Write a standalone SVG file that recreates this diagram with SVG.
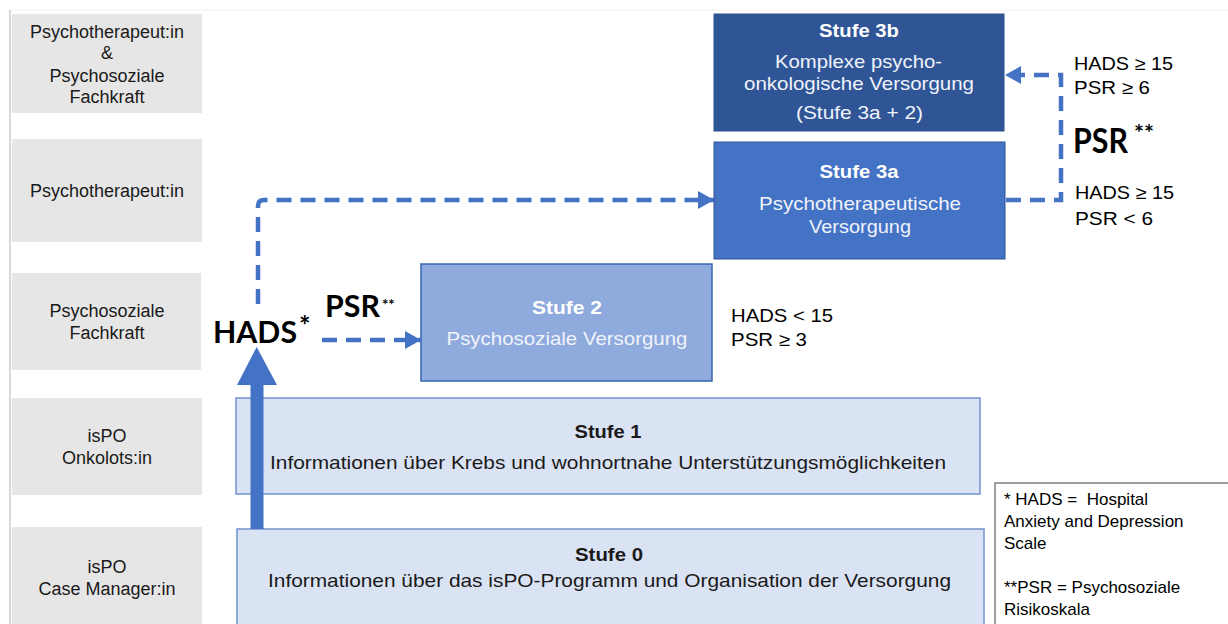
<svg xmlns="http://www.w3.org/2000/svg" width="1228" height="624" viewBox="0 0 1228 624">
<style>
  .lane { fill: #E6E6E6; }
  .lbl { font-family: "Liberation Sans", Arial, sans-serif; font-size: 18px; fill: #1a1a1a; text-anchor: middle; }
  .cond { font-family: "Liberation Sans", Arial, sans-serif; font-size: 18.5px; fill: #000; }
  .bt { font-family: "Liberation Sans", Arial, sans-serif; text-anchor: middle; }
  .bold { font-weight: bold; }
  .white { fill: #ffffff; }
  .soft { fill: #F0F3FA; }
  .dark { fill: #1a1a1a; }
  .big { font-family: Lato, "Open Sans", sans-serif; font-weight: 700; fill: #000; }
  .dash { fill: none; stroke: #4472C4; stroke-width: 4.5; stroke-dasharray: 15 9; }
  .legend { font-family: "Liberation Sans", Arial, sans-serif; font-size: 17px; fill: #000; }
</style>
<defs>
  <marker id="ah" markerUnits="userSpaceOnUse" viewBox="0 0 16 18" markerWidth="16" markerHeight="18" refX="16" refY="9" orient="auto">
    <path d="M0,0 L16,9 L0,18 Z" fill="#4472C4"/>
  </marker>
</defs>
<rect width="1228" height="624" fill="#ffffff"/>
<!-- faint frame -->
<line x1="10" y1="10" x2="1228" y2="10" stroke="#F2F2F2" stroke-width="1"/>
<line x1="10" y1="10" x2="10" y2="624" stroke="#D9D9D9" stroke-width="2"/>

<!-- left lanes -->
<g id="lane-1">
  <rect class="lane" x="12" y="14" width="190" height="99"/>
  <text class="lbl" x="107" y="38">Psychotherapeut:in</text>
  <text class="lbl" x="107" y="59">&amp;</text>
  <text class="lbl" x="107" y="82">Psychosoziale</text>
  <text class="lbl" x="107" y="103">Fachkraft</text>
</g>
<g id="lane-2">
  <rect class="lane" x="12" y="139" width="190" height="103"/>
  <text class="lbl" x="107" y="197">Psychotherapeut:in</text>
</g>
<g id="lane-3">
  <rect class="lane" x="12" y="273" width="189" height="97"/>
  <text class="lbl" x="107" y="317">Psychosoziale</text>
  <text class="lbl" x="107" y="339">Fachkraft</text>
</g>
<g id="lane-4">
  <rect class="lane" x="12" y="398" width="190" height="97"/>
  <text class="lbl" x="107" y="442">isPO</text>
  <text class="lbl" x="107" y="464">Onkolots:in</text>
</g>
<g id="lane-5">
  <rect class="lane" x="12" y="527" width="190" height="100"/>
  <text class="lbl" x="107" y="573">isPO</text>
  <text class="lbl" x="107" y="595">Case Manager:in</text>
</g>

<!-- Stufe boxes -->
<g id="stufe-3b">
  <rect x="714" y="14" width="290" height="117" fill="#2F5597" stroke="#2E528F" stroke-width="1"/>
  <text class="bt bold white" x="859" y="37" font-size="17.5" textLength="80" lengthAdjust="spacingAndGlyphs">Stufe 3b</text>
  <text class="bt soft" x="858.5" y="68" font-size="18.5" textLength="167" lengthAdjust="spacingAndGlyphs">Komplexe psycho-</text>
  <text class="bt soft" x="859" y="90" font-size="18.5" textLength="230" lengthAdjust="spacingAndGlyphs">onkologische Versorgung</text>
  <text class="bt soft" x="859.5" y="119" font-size="18.5" textLength="127" lengthAdjust="spacingAndGlyphs">(Stufe 3a + 2)</text>
</g>
<g id="stufe-3a">
  <rect x="714" y="142" width="291" height="117" fill="#4472C4" stroke="#2F5597" stroke-width="1"/>
  <text class="bt bold white" x="859" y="178" font-size="17.5" textLength="79" lengthAdjust="spacingAndGlyphs">Stufe 3a</text>
  <text class="bt soft" x="860" y="210" font-size="18.5" textLength="202" lengthAdjust="spacingAndGlyphs">Psychotherapeutische</text>
  <text class="bt soft" x="860" y="233" font-size="18.5" textLength="102" lengthAdjust="spacingAndGlyphs">Versorgung</text>
</g>
<g id="stufe-2">
  <rect x="421" y="264" width="291" height="117" fill="#8FAADC" stroke="#3A64B0" stroke-width="1.5"/>
  <text class="bt bold white" x="567" y="314" font-size="17.5" textLength="70" lengthAdjust="spacingAndGlyphs">Stufe 2</text>
  <text class="bt soft" x="567" y="345" font-size="18.5" textLength="241" lengthAdjust="spacingAndGlyphs">Psychosoziale Versorgung</text>
</g>
<g id="stufe-1">
  <rect x="236" y="398" width="744" height="96" fill="#DAE3F3" stroke="#7393CF" stroke-width="1.5"/>
  <text class="bt bold dark" x="608" y="438" font-size="18.5" textLength="67" lengthAdjust="spacingAndGlyphs">Stufe 1</text>
  <text class="bt dark" x="608" y="469" font-size="19" textLength="676" lengthAdjust="spacingAndGlyphs">Informationen über Krebs und wohnortnahe Unterstützungsmöglichkeiten</text>
</g>
<g id="stufe-0">
  <rect x="237" y="529" width="747" height="110" fill="#DAE3F3" stroke="#7393CF" stroke-width="1.5"/>
  <text class="bt bold dark" x="609" y="561" font-size="18.5" textLength="68" lengthAdjust="spacingAndGlyphs">Stufe 0</text>
  <text class="bt dark" x="609.5" y="587" font-size="19" textLength="683" lengthAdjust="spacingAndGlyphs">Informationen über das isPO-Programm und Organisation der Versorgung</text>
</g>

<!-- connectors -->
<g id="connectors">
  <path d="M257,529 L257,385" stroke="#4472C4" stroke-width="13" fill="none"/>
  <path d="M237,385 L256.7,347 L277,385 Z" fill="#4472C4"/>
  <path class="dash" d="M258,304 V206 Q258,200 264,200 H714" marker-end="url(#ah)"/>
  <path class="dash" d="M322,340 H421" marker-end="url(#ah)"/>
  <path class="dash" d="M1006,200 H1061 V75 H1005" marker-end="url(#ah)"/>
</g>

<!-- labels -->
<g id="labels">
  <text class="big" x="213" y="343"><tspan font-size="30" textLength="84" lengthAdjust="spacingAndGlyphs">HADS</tspan><tspan dx="2" dy="-8" font-size="27">*</tspan></text>
  <text class="big" x="325" y="317"><tspan font-size="30" textLength="55" lengthAdjust="spacingAndGlyphs">PSR</tspan><tspan dx="2" dy="-7" font-size="15">**</tspan></text>
  <text class="big" x="1073" y="153" font-size="34" textLength="55" lengthAdjust="spacingAndGlyphs">PSR</text>
  <text class="big" x="1134" y="141" font-size="22" textLength="20" lengthAdjust="spacingAndGlyphs">**</text>

  <text class="cond" x="1074" y="70" textLength="99" lengthAdjust="spacingAndGlyphs">HADS ≥ 15</text>
  <text class="cond" x="1074" y="94" textLength="76" lengthAdjust="spacingAndGlyphs">PSR ≥ 6</text>
  <text class="cond" x="1075" y="199" textLength="99" lengthAdjust="spacingAndGlyphs">HADS ≥ 15</text>
  <text class="cond" x="1075" y="225" textLength="78" lengthAdjust="spacingAndGlyphs">PSR &lt; 6</text>
  <text class="cond" x="731" y="322" textLength="102" lengthAdjust="spacingAndGlyphs">HADS &lt; 15</text>
  <text class="cond" x="731" y="346" textLength="76" lengthAdjust="spacingAndGlyphs">PSR ≥ 3</text>
</g>

<!-- legend -->
<g id="legend">
  <rect x="995" y="483" width="240" height="150" fill="#ffffff" stroke="#7F7F7F" stroke-width="1.5"/>
  <text class="legend" x="1004" y="505" xml:space="preserve">* HADS =  Hospital</text>
  <text class="legend" x="1004" y="527">Anxiety and Depression</text>
  <text class="legend" x="1004" y="549">Scale</text>
  <text class="legend" x="1004" y="593">**PSR = Psychosoziale</text>
  <text class="legend" x="1004" y="615">Risikoskala</text>
</g>
</svg>
